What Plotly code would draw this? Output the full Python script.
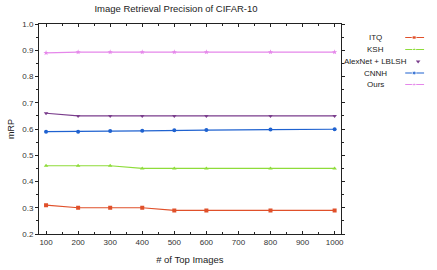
import plotly.graph_objects as go

top_images = [100, 200, 300, 400, 500, 600, 800, 1000]
itq = [0.31, 0.30, 0.30, 0.30, 0.29, 0.29, 0.29, 0.29]
ksh = [0.46, 0.46, 0.46, 0.45, 0.45, 0.45, 0.45, 0.45]
alexnet_lblsh = [0.66, 0.65, 0.65, 0.65, 0.65, 0.65, 0.65, 0.65]
cnnh = [0.59, 0.59, 0.592, 0.593, 0.595, 0.596, 0.598, 0.599]
ours = [0.89, 0.893, 0.893, 0.893, 0.893, 0.893, 0.893, 0.893]

series_names = ["ITQ", "KSH", "AlexNet + LBLSH", "CNNH", "Ours"]
series_values = [itq, ksh, alexnet_lblsh, cnnh, ours]
colors = ["#e0502a", "#8edc3a", "#7a3d8c", "#1f62d0", "#e587ea"]
symbols = ["square", "triangle-up", "triangle-down", "circle", "star"]

W, H = 437, 270
L, R, T, B = 39, 343, 24, 234
FONT = "Liberation Sans, Arial, sans-serif"

fig = go.Figure()
for name, vals, c, s in zip(series_names, series_values, colors, symbols):
    fig.add_trace(go.Scatter(
        x=top_images, y=vals, mode="lines+markers", name=name,
        line=dict(color=c, width=1.2),
        marker=dict(symbol=s, size=4, color=c),
        showlegend=False, xaxis="x", yaxis="y"))

# custom legend (text left, line sample right) drawn in a side axis mapped to pixels
leg_y = [37.5, 49.5, 61.5, 73, 84.5]
leg_line = [True, True, False, True, True]
for name, c, s, ly, has_line in zip(series_names, colors, symbols, leg_y, leg_line):
    if has_line:
        fig.add_trace(go.Scatter(
            x=[408, 417, 427], y=[ly, ly, ly], mode="lines+markers",
            line=dict(color=c, width=1.2),
            marker=dict(symbol=s, size=[0, 4, 0], color=c),
            showlegend=False, xaxis="x2", yaxis="y2", hoverinfo="skip"))
    else:
        fig.add_trace(go.Scatter(
            x=[421], y=[ly], mode="markers",
            marker=dict(symbol=s, size=4, color=c),
            showlegend=False, xaxis="x2", yaxis="y2", hoverinfo="skip"))
    fig.add_annotation(x=378, y=ly, xref="x2", yref="y2", text=name,
                       showarrow=False, xanchor="center", yanchor="middle",
                       font=dict(family=FONT, size=8, color="#222"))

main_dom = (R - L) / (W - L)
fig.update_layout(
    width=W, height=H,
    margin=dict(l=L, r=0, t=T, b=H - B),
    paper_bgcolor="white", plot_bgcolor="white",
    font=dict(family=FONT, size=8, color="#222"),
    title=dict(text="Image Retrieval Precision of CIFAR-10", x=176 / W, xanchor="center",
               y=1 - 9 / H, yanchor="middle", font=dict(family=FONT, size=9.5, color="#222")),
    xaxis=dict(domain=[0, main_dom], range=[78, 1019], tickvals=[100, 200, 300, 400, 500, 600, 700, 800, 900, 1000],
               showgrid=False, zeroline=False, showline=True, linecolor="#222", linewidth=1,
               mirror="ticks", ticks="inside", ticklen=3, tickcolor="#222",
               minor=dict(dtick=50, tick0=0, ticks="inside", ticklen=2, tickcolor="#222"),
               tickfont=dict(size=8, color="#333"),
               title=dict(text="# of Top Images", font=dict(size=9.5, color="#222"), standoff=10)),
    yaxis=dict(range=[0.2, 1.0], dtick=0.1, tickformat=".1f",
               showgrid=False, zeroline=False, showline=True, linecolor="#222", linewidth=1,
               mirror="ticks", ticks="outside", ticklen=3, tickcolor="#222",
               minor=dict(dtick=0.05, ticks="outside", ticklen=2, tickcolor="#222"),
               tickfont=dict(size=8, color="#333"),
               title=dict(text="mRP", font=dict(size=9, color="#222"), standoff=6)),
    xaxis2=dict(domain=[(R + 1 - L) / (W - L), 1], range=[R + 1, W], visible=False, anchor="y2", fixedrange=True),
    yaxis2=dict(domain=[0, 1], range=[B, T], visible=False, anchor="x2", fixedrange=True),
)

fig.write_html("out.html")
